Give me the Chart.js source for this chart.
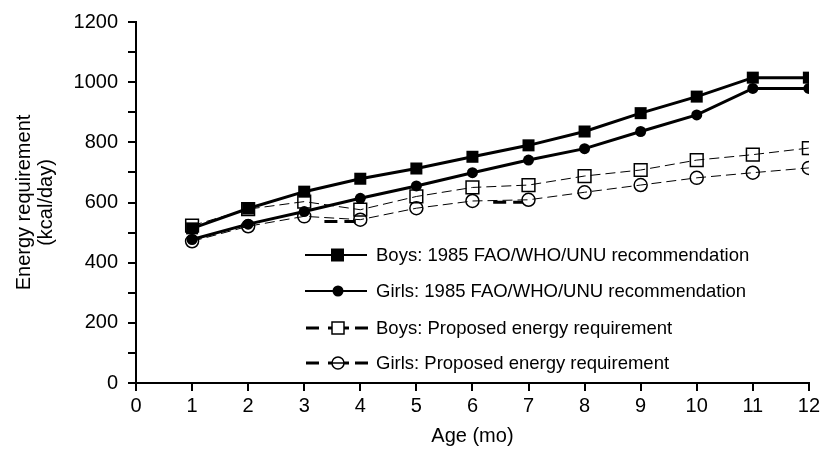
<!DOCTYPE html>
<html>
<head>
<meta charset="utf-8">
<script src="https://cdn.jsdelivr.net/npm/chart.js@4"></script>
<style>
  body { margin: 0; background: #fff; }
  #wrap { width: 823px; height: 452px; }
</style>
</head>
<body>
<div id="wrap"><canvas id="grafico"></canvas></div>
<script>
// Datos
const edades = [1, 2, 3, 4, 5, 6, 7, 8, 9, 10, 11, 12];
const ninos1985 = [514, 580, 636, 679, 713, 752, 790, 836, 897, 952, 1015, 1015];
const ninas1985 = [477, 528, 570, 614, 655, 699, 741, 779, 836, 891, 979, 979];
const ninosPropuesto = [523, 578, 603, 576, 620, 650, 658, 688, 708, 741, 759, 781];
const ninasPropuesto = [471, 521, 554, 543, 581, 605, 609, 634, 658, 682, 699, 715];
// trazos gruesos discontinuos sueltos que aparecen en el original
const trazosX = [3.36, 3.92, null, 6.37, 6.9];
const trazosY = [537, 537, null, 601, 601];

const etiquetas = [
    'Boys: 1985 FAO/WHO/UNU recommendation',
    'Girls: 1985 FAO/WHO/UNU recommendation',
    'Boys: Proposed energy requirement',
    'Girls: Proposed energy requirement'
];

const fuente = 'Liberation Sans, Arial, Helvetica, sans-serif';
const puntos = (ys) => edades.map((x, i) => ({ x: x, y: ys[i] }));

// Leyenda dibujada a mano (línea + marcador)
const leyenda = {
    id: 'leyenda',
    afterDatasetsDraw(chart) {
        const ctx = chart.ctx;
        const filas = [255, 291, 328, 363];
        ctx.save();
        filas.forEach((y, i) => {
            ctx.strokeStyle = '#000';
            ctx.fillStyle = '#000';
            if (i < 2) {
                ctx.lineWidth = 2;
                ctx.beginPath();
                ctx.moveTo(305, y);
                ctx.lineTo(367, y);
                ctx.stroke();
            } else {
                ctx.lineWidth = 3;
                ctx.beginPath();
                ctx.moveTo(306, y); ctx.lineTo(319, y);
                ctx.moveTo(328, y); ctx.lineTo(349, y);
                ctx.moveTo(355, y); ctx.lineTo(368, y);
                ctx.stroke();
            }
            ctx.lineWidth = 1.5;
            if (i === 0) ctx.fillRect(331, y - 6.5, 13, 13);
            if (i === 1) { ctx.beginPath(); ctx.arc(338, y, 5.5, 0, Math.PI * 2); ctx.fill(); }
            if (i === 2) { ctx.fillStyle = '#fff'; ctx.fillRect(332, y - 6, 12, 12); ctx.strokeRect(332, y - 6, 12, 12); }
            if (i === 3) { ctx.beginPath(); ctx.arc(338, y, 6, 0, Math.PI * 2); ctx.fillStyle = '#fff'; ctx.fill(); ctx.stroke();
                ctx.beginPath(); ctx.moveTo(332, y); ctx.lineTo(344, y); ctx.stroke(); }
            ctx.fillStyle = '#000';
            ctx.font = '18.5px ' + fuente;
            ctx.textBaseline = 'middle';
            ctx.textAlign = 'left';
            ctx.fillText(etiquetas[i], 376, y + 1);
        });
        ctx.restore();
    }
};

const config = {
    type: 'line',
    data: {
        datasets: [
            {
                label: etiquetas[0], data: puntos(ninos1985), order: 1,
                borderColor: '#000', borderWidth: 3, pointStyle: 'rect',
                pointRadius: 8.5, pointBackgroundColor: '#000', pointBorderWidth: 0
            },
            {
                label: etiquetas[1], data: puntos(ninas1985), order: 2,
                borderColor: '#000', borderWidth: 3, pointStyle: 'circle',
                pointRadius: 5.5, pointBackgroundColor: '#000', pointBorderWidth: 0
            },
            {
                label: etiquetas[2], data: puntos(ninosPropuesto), order: 3,
                borderColor: '#000', borderWidth: 1, borderDash: [10, 5], pointStyle: 'rect',
                pointRadius: 9, pointBackgroundColor: 'rgba(0,0,0,0)', pointBorderColor: '#000', pointBorderWidth: 1.5
            },
            {
                label: etiquetas[3], data: puntos(ninasPropuesto), order: 4,
                borderColor: '#000', borderWidth: 1, borderDash: [10, 5], pointStyle: 'circle',
                pointRadius: 6.5, pointBackgroundColor: 'rgba(0,0,0,0)', pointBorderColor: '#000', pointBorderWidth: 1.5
            },
            {
                label: 'trazos', data: trazosX.map((x, i) => x === null ? { x: 5, y: null } : { x: x, y: trazosY[i] }),
                order: 5, borderColor: '#000', borderWidth: 3, borderDash: [13, 7], pointRadius: 0, spanGaps: false
            }
        ]
    },
    options: {
        responsive: true,
        maintainAspectRatio: false,
        animation: false,
        layout: { padding: { left: 10, right: 11, top: 15, bottom: 0 } },
        plugins: {
            legend: { display: false },
            tooltip: { enabled: false }
        },
        scales: {
            x: {
                type: 'linear', min: 0, max: 12,
                afterFit: (s) => { s.height = 69; },
                border: { display: true, color: '#000', width: 2 },
                grid: { drawOnChartArea: false, drawTicks: true, tickLength: 8, color: '#000', lineWidth: 2 },
                ticks: { stepSize: 1, color: '#000', font: { family: fuente, size: 20 }, padding: 3, maxRotation: 0 },
                title: { display: true, text: 'Age (mo)', color: '#000', font: { family: fuente, size: 20 }, padding: { top: 5 } }
            },
            y: {
                min: 0, max: 1200,
                afterFit: (s) => { s.width = 126; },
                border: { display: true, color: '#000', width: 2 },
                grid: { drawOnChartArea: false, drawTicks: true, tickLength: 8, color: '#000', lineWidth: 2 },
                ticks: {
                    stepSize: 100, color: '#000', font: { family: fuente, size: 20 }, padding: 10,
                    callback: (v) => v % 200 === 0 ? v : ''
                },
                title: {
                    display: true, text: ['Energy requirement', '(kcal/day)'], color: '#000',
                    font: { family: fuente, size: 20, lineHeight: 1.1 }, padding: { top: 3 }
                }
            }
        }
    },
    plugins: [leyenda]
};

new Chart(document.getElementById('grafico'), config);
</script>
</body>
</html>
